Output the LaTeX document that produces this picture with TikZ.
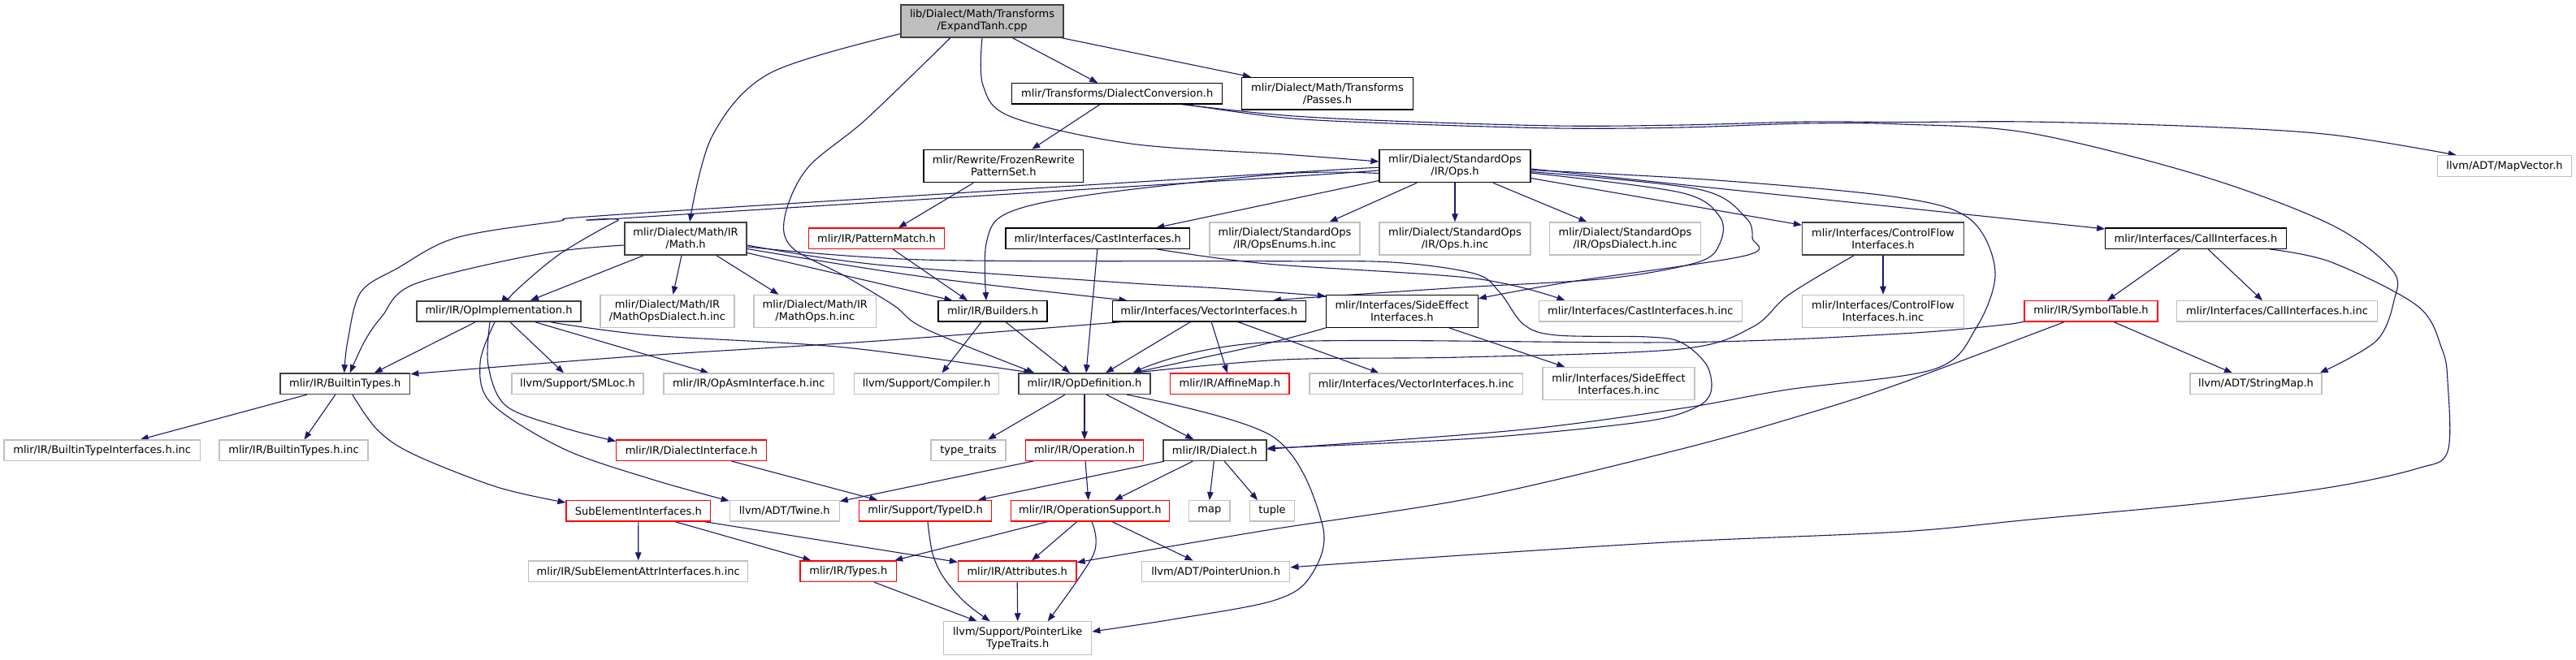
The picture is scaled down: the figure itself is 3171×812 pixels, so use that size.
\documentclass[tikz,border=0pt]{standalone}
\usepackage{fontspec}
\setmainfont{DejaVu Sans}
\usetikzlibrary{arrows.meta}
\pgfdeclarelayer{bg}
\pgfsetlayers{bg,main}
\definecolor{edgec}{HTML}{191970}
\definecolor{graynode}{HTML}{BFBFBF}
\definecolor{darkb}{HTML}{404040}
\begin{document}
\begin{tikzpicture}[x=1pt,y=-1pt,
  nb/.style={rectangle, inner sep=0pt, fill=white, font=\fontsize{13}{15}\selectfont, align=center, line width=1.2pt},
  blk/.style={nb, draw=black},
  drk/.style={nb, draw=darkb, line width=1.6pt},
  gry/.style={nb, draw=graynode},
  rd/.style={nb, draw=red},
  rootn/.style={nb, draw=darkb, fill=graynode, line width=1.6pt},
  sz/.style 2 args={minimum width=#1pt, minimum height=#2pt},
  edge/.style={draw=edgec, line width=1.1pt, -{Triangle[length=10pt,width=7.5pt]}},
  sm/.style={smooth, tension=0.55}]
\useasboundingbox (0,0) rectangle (3171,812);

% nodes
\node[rootn, sz={200}{40}] (E) at (1209,25.7) {lib/Dialect/Math/Transforms\\/ExpandTanh.cpp};
\node[blk, sz={258.7}{25.3}] (DC) at (1375.2,115.3) {mlir/Transforms/DialectConversion.h};
\node[blk, sz={211}{39.7}] (PS) at (1634,115.2) {mlir/Dialect/Math/Transforms\\/Passes.h};
\node[blk, sz={196.6}{40.4}] (FR) at (1235.3,204.5) {mlir/Rewrite/FrozenRewrite\\PatternSet.h};
\node[blk, sz={186}{40.4}] (SO) at (1791,204.5) {mlir/Dialect/StandardOps\\/IR/Ops.h};
\node[gry, sz={165.3}{25.6}] (MV) at (3083,204.5) {llvm/ADT/MapVector.h};
\node[drk, sz={150}{40}] (MA) at (844,294) {mlir/Dialect/Math/IR\\/Math.h};
\node[rd, sz={167.4}{25.3}] (PM) at (1079,293.7) {mlir/IR/PatternMatch.h};
\node[blk, sz={226.7}{25.3}] (CI) at (1351.3,293.7) {mlir/Interfaces/CastInterfaces.h};
\node[gry, sz={185}{40}] (OE) at (1581.5,294) {mlir/Dialect/StandardOps\\/IR/OpsEnums.h.inc};
\node[gry, sz={186}{40}] (OI) at (1791,294) {mlir/Dialect/StandardOps\\/IR/Ops.h.inc};
\node[gry, sz={186.3}{40}] (OD) at (2000.5,294) {mlir/Dialect/StandardOps\\/IR/OpsDialect.h.inc};
\node[drk, sz={198.7}{40}] (CF) at (2318,294) {mlir/Interfaces/ControlFlow\\Interfaces.h};
\node[blk, sz={222.6}{25.3}] (CL) at (2703,293.7) {mlir/Interfaces/CallInterfaces.h};
\node[drk, sz={202}{25.3}] (OPI) at (614,383.4) {mlir/IR/OpImplementation.h};
\node[gry, sz={165}{40}] (MOD) at (821.5,383.3) {mlir/Dialect/Math/IR\\/MathOpsDialect.h.inc};
\node[gry, sz={150.5}{40}] (MO) at (1003.3,383.3) {mlir/Dialect/Math/IR\\/MathOps.h.inc};
\node[blk, sz={134}{25.3}] (BU) at (1222,383.4) {mlir/IR/Builders.h};
\node[blk, sz={238.2}{25.3}] (VI) at (1488.2,383.4) {mlir/Interfaces/VectorInterfaces.h};
\node[blk, sz={186.8}{40}] (SE) at (1725.8,383.3) {mlir/Interfaces/SideEffect\\Interfaces.h};
\node[gry, sz={250.6}{25.3}] (CIinc) at (2019.4,383.4) {mlir/Interfaces/CastInterfaces.h.inc};
\node[gry, sz={198.7}{40}] (CFinc) at (2318,383.3) {mlir/Interfaces/ControlFlow\\Interfaces.h.inc};
\node[rd, sz={164}{25.3}] (ST) at (2574,383.4) {mlir/IR/SymbolTable.h};
\node[gry, sz={247}{25.3}] (CLinc) at (2803,383.4) {mlir/Interfaces/CallInterfaces.h.inc};
\node[drk, sz={159.6}{25.3}] (BT) at (424.8,472.7) {mlir/IR/BuiltinTypes.h};
\node[gry, sz={162}{25.3}] (SM) at (711,472.7) {llvm/Support/SMLoc.h};
\node[gry, sz={209.4}{25.3}] (OA) at (921.7,472.7) {mlir/IR/OpAsmInterface.h.inc};
\node[gry, sz={178}{25.3}] (CO) at (1140.5,472.7) {llvm/Support/Compiler.h};
\node[drk, sz={162}{25.3}] (ODf) at (1335,472.7) {mlir/IR/OpDefinition.h};
\node[rd, sz={146.3}{25.3}] (AM) at (1513.8,472.7) {mlir/IR/AffineMap.h};
\node[gry, sz={262.3}{25.3}] (VIinc) at (1743.2,472.7) {mlir/Interfaces/VectorInterfaces.h.inc};
\node[gry, sz={187}{40}] (SEinc) at (1992.5,472.7) {mlir/Interfaces/SideEffect\\Interfaces.h.inc};
\node[gry, sz={162}{25.3}] (SMap) at (2777,472.7) {llvm/ADT/StringMap.h};
\node[gry, sz={241.4}{25.3}] (BTI) at (125.7,554.7) {mlir/IR/BuiltinTypeInterfaces.h.inc};
\node[gry, sz={183}{25.3}] (BTinc) at (361.5,554.7) {mlir/IR/BuiltinTypes.h.inc};
\node[rd, sz={185}{25.3}] (DI) at (851.2,554.7) {mlir/IR/DialectInterface.h};
\node[gry, sz={92}{25.3}] (TT) at (1192,554.7) {type\_traits};
\node[rd, sz={145}{25.3}] (OP) at (1335,554.7) {mlir/IR/Operation.h};
\node[drk, sz={127}{25.3}] (DL) at (1495.3,554.7) {mlir/IR/Dialect.h};
\node[rd, sz={177.5}{25.3}] (SEI) at (785.8,629.3) {SubElementInterfaces.h};
\node[gry, sz={135}{25.3}] (TW) at (965.7,629.3) {llvm/ADT/Twine.h};
\node[rd, sz={162.3}{25.3}] (TID) at (1139,629.3) {mlir/Support/TypeID.h};
\node[rd, sz={195}{25.3}] (OS) at (1341.8,629.3) {mlir/IR/OperationSupport.h};
\node[gry, sz={50.5}{25.3}] (MP) at (1488.8,629.3) {map};
\node[gry, sz={54.6}{25.3}] (TU) at (1566,629.3) {tuple};
\node[gry, sz={270.3}{25.7}] (SEA) at (785.7,703.8) {mlir/IR/SubElementAttrInterfaces.h.inc};
\node[rd, sz={118.5}{25.7}] (TY) at (1044.3,703.8) {mlir/IR/Types.h};
\node[rd, sz={145.5}{25.7}] (AT) at (1252.2,703.8) {mlir/IR/Attributes.h};
\node[gry, sz={182.5}{25.3}] (PU) at (1496.6,703.8) {llvm/ADT/PointerUnion.h};
\node[gry, sz={182.2}{40.3}] (PL) at (1252.7,786) {llvm/Support/PointerLike\\TypeTraits.h};

\begin{pgfonlayer}{bg}
\fill[white] (0,0) rectangle (3171,812);
% ExpandTanh
\draw[edge] plot[sm] coordinates {([yshift=-16]E.west) (948,90) (877,167) ([xshift=5]MA.north)};
\draw[edge] plot[sm] coordinates {([xshift=-39]E.south) (1066,147) (994,207) (966,267) (975,305) (1040,340) (1100,376) (1139,405) ([xshift=20]ODf.north west)};
\draw[edge] plot[sm] coordinates {(E.south) (1210,105) (1245,144) (1392,177) (1580,190) ([yshift=5.5]SO.west)};
\draw[edge] ([xshift=37]E.south) -- ([xshift=-24]DC.north);
\draw[edge] ([xshift=-4]E.south east) -- ([xshift=12]PS.north west);
% DialectConversion
\draw[edge] ([xshift=-21]DC.south) -- ([xshift=35]FR.north);
\draw[edge] plot[sm] coordinates {([xshift=-51]DC.south east) (1580,142) (1713,149) (1917,155) (2070,154) (2223,150) (2340,150.5) (2499,150) (2711,156) (2870,166) ([xshift=24]MV.north west)};
\draw[edge] plot[sm] coordinates {([xshift=-46]DC.south east) (1580,145) (1713,152) (1917,158) (2070,157) (2223,152) (2340,153) (2499,164) (2711,217) (2870,277) (2945,333) (2947,370) (2925,420) ([xshift=-3]SMap.north east)};
% FrozenRewrite, PatternMatch
\draw[edge] ([xshift=-37]FR.south) -- ([xshift=27]PM.north);
\draw[edge] ([xshift=20]PM.south) -- ([xshift=-31]BU.north);
% Math.h
\draw[edge] plot[sm] coordinates {([yshift=-8]MA.west) (663,313) (510,350) (470,390) (449,420) ([xshift=6]BT.north)};
\draw[edge] ([xshift=-52]MA.south) -- ([xshift=39]OPI.north);
\draw[edge] ([xshift=-5]MA.south) -- ([xshift=7]MOD.north);
\draw[edge] ([xshift=38]MA.south) -- ([xshift=31]MO.north west);
\draw[edge] ([yshift=-17.5]MA.east) -- ([xshift=18]BU.north west);
\draw[edge] plot[sm] coordinates {([yshift=-12.5]MA.east) (1137,341) ([xshift=19]VI.north west)};
\draw[edge] plot[sm] coordinates {([yshift=-8]MA.east) (1080,326) (1380,348) (1500,355) ([yshift=-2]SE.north west)};
\draw[edge] plot[sm] coordinates {([yshift=-10]MA.east) (1137,320) (1560,321.7) (1713,323) (1815,337) (1846,360) (1876,400) (1917,413) (2029,415) (2070,422) (2101,450) (2106,483) (2085,503) (2019,520) (1815,540) ([yshift=2.5]DL.east)};
% StandardOps Ops.h
\draw[edge] plot[sm] coordinates {([yshift=-2]SO.west) (1580,213) (780,263) (684,273) (561,293) (490,330) (444,360) (428,420) ([xshift=-1]BT.north)};
\draw[edge] plot[sm] coordinates {([yshift=-5]SO.west) (1580,218) (780,268) (760,272) (689,313) (633,360) ([xshift=14]OPI.north)};
\draw[edge] plot[sm] coordinates {([yshift=-9]SO.west) (1580,214) (1341,240) (1239,263) (1214,300) ([xshift=-8]BU.north)};
\draw[edge] ([yshift=-18]SO.west) -- ([xshift=72]CI.north);
\draw[edge] ([xshift=-47]SO.south) -- ([xshift=55]OE.north);
\draw[edge] (SO.south) -- (OI.north);
\draw[edge] ([xshift=47]SO.south) -- ([xshift=-47]OD.north);
\draw[edge] ([yshift=-15]SO.east) -- ([yshift=-4]CF.north west);
\draw[edge] ([yshift=-3.5]SO.east) -- ([yshift=-1.5]CL.north west);
\draw[edge] plot[sm] coordinates {([yshift=-5]SO.east) (2113,222) (2336,243) (2425,270) (2456,335) (2432,405) (2380,455) (2200,480) (2070,503) (1866,530) ([yshift=1.5]DL.east)};
\draw[edge] plot[sm] coordinates {([yshift=-7]SO.east) (2090,233) (2148,267) (2157,293) (2148,315) (1934,347) ([yshift=-5]SE.north east)};
\draw[edge] plot[sm] coordinates {([yshift=-8.5]SO.east) (2068,237) (2117,267) (2117,300) (2090,323) (1979,343) (1800,354) (1620,366) ([xshift=-41]VI.north east)};
% CastInterfaces
\draw[edge] ([xshift=-0.5]CI.south) -- ([xshift=2]ODf.north);
\draw[edge] plot[sm] coordinates {([xshift=73]CI.south) (1560,325) (1815,343) ([xshift=33]CIinc.north west)};
% Builders
\draw[edge] ([xshift=-14]BU.south) -- ([xshift=19]CO.north);
\draw[edge] ([xshift=16]BU.south) -- ([xshift=-18]ODf.north);
% OpImplementation
\draw[edge] ([xshift=-29]OPI.south) -- ([xshift=36]BT.north);
\draw[edge] ([xshift=14]OPI.south) -- ([xshift=-17]SM.north);
\draw[edge] ([xshift=45]OPI.south) -- ([xshift=56]OA.north west);
\draw[edge] plot[sm] coordinates {([xshift=-11]OPI.south) (601,450) (623,500) (694,527) ([yshift=-2]DI.north west)};
\draw[edge] plot[sm] coordinates {([xshift=-5]OPI.south) (591,447) (605,497) (694,553) (801,590) ([yshift=-1]TW.north west)};
\draw[edge] plot[sm] coordinates {([xshift=64]OPI.south) (801,413) (1040,428) ([xshift=17]ODf.north west)};
% VectorInterfaces
\draw[edge] plot[sm] coordinates {([xshift=-108]VI.south) (1080,420) (780,439) ([yshift=-1.5]BT.north east)};
\draw[edge] ([xshift=-23]VI.south) -- ([xshift=26]ODf.north);
\draw[edge] ([xshift=3]VI.south) -- ([xshift=-3]AM.north);
\draw[edge] ([xshift=36]VI.south) -- ([xshift=86]VIinc.north west);
% SideEffect
\draw[edge] plot[sm] coordinates {(SE.south west) (1560,423) ([xshift=-22]ODf.north east)};
\draw[edge] ([xshift=58]SE.south) -- ([xshift=28]SEinc.north west);
% ControlFlow
\draw[edge] plot[sm] coordinates {([xshift=-36]CF.south) (2202,363) (2157,403) (2068,430) (1800,440) (1580,443) ([xshift=-22]ODf.north east)};
\draw[edge] (CF.south) -- (CFinc.north);
% SymbolTable
\draw[edge] plot[sm] coordinates {([yshift=1]ST.south west) (2467,400) (2340,411) (2070,421.7) (1560,421.7) ([xshift=-22]ODf.north east)};
\draw[edge] ([xshift=28]ST.south) -- ([xshift=-29]SMap.north);
\draw[edge] plot[sm] coordinates {([xshift=-33]ST.south) (2340,472) (2223,510) (2070,553) (1815,613) (1560,653) ([yshift=11]AT.east)};
% CallInterfaces
\draw[edge] ([xshift=-19.6]CL.south) -- ([xshift=20]ST.north);
\draw[edge] ([xshift=15]CL.south) -- ([xshift=-18]CLinc.north);
\draw[edge] plot[sm] coordinates {([xshift=-21]CL.south east) (2870,323) (2976,377) (3006,430) (3013,470) (3013,556) (2976,577) (2870,600) (2711,620) (2499,640) (2340,655) (2070,667) (1815,683) ([yshift=5]PU.east)};
% BuiltinTypes
\draw[edge] ([xshift=-47]BT.south) -- ([xshift=47]BTI.north);
\draw[edge] ([xshift=-12]BT.south) -- ([xshift=13]BTinc.north);
\draw[edge] plot[sm] coordinates {([xshift=9]BT.south) (465,530) (510,560) (612,600) ([yshift=-3]SEI.north west)};
% OpDefinition
\draw[edge] ([xshift=-24]ODf.south) -- ([xshift=24]TT.north);
\draw[edge] (ODf.south) -- (OP.north);
\draw[edge] ([xshift=27]ODf.south) -- ([xshift=-26]DL.north);
\draw[edge] plot[sm] coordinates {([xshift=52]ODf.south) (1567,538) (1628,647) (1613,710) (1567,740) (1443,763) ([yshift=8]PL.east)};
% Operation
\draw[edge] ([xshift=-63]OP.south) -- ([yshift=-1.5]TW.north east);
\draw[edge] ([xshift=1]OP.south) -- ([xshift=-2]OS.north);
% DialectInterface, Dialect
\draw[edge] ([xshift=49]DI.south) -- ([xshift=23]TID.north west);
\draw[edge] ([xshift=-62]DL.south) -- ([xshift=-17]TID.north east);
\draw[edge] ([xshift=-27]DL.south) -- ([xshift=30]OS.north);
\draw[edge] ([xshift=-1]DL.south) -- (MP.north);
\draw[edge] ([xshift=12]DL.south) -- ([xshift=-18]TU.north);
% SubElementInterfaces
\draw[edge] (SEI.south) -- (SEA.north);
\draw[edge] ([xshift=45]SEI.south) -- ([xshift=14]TY.north west);
\draw[edge] ([xshift=81]SEI.south) -- ([yshift=-2]AT.north west);
% TypeID, OperationSupport
\draw[edge] plot[sm] coordinates {([xshift=3]TID.south) (1148,682) (1162,712) (1188,742) ([xshift=-34]PL.north)};
\draw[edge] ([xshift=-52]OS.south) -- ([xshift=-3]TY.north east);
\draw[edge] ([xshift=-16]OS.south) -- ([xshift=18]AT.north);
\draw[edge] ([xshift=27]OS.south) -- ([xshift=-28]PU.north);
\draw[edge] plot[sm] coordinates {([xshift=2]OS.south) (1346,683) ([xshift=37]PL.north)};
% Types, Attributes
\draw[edge] ([xshift=32]TY.south) -- ([xshift=-50]PL.north);
\draw[edge] (AT.south) -- (PL.north);
\end{pgfonlayer}
\end{tikzpicture}
\end{document}
